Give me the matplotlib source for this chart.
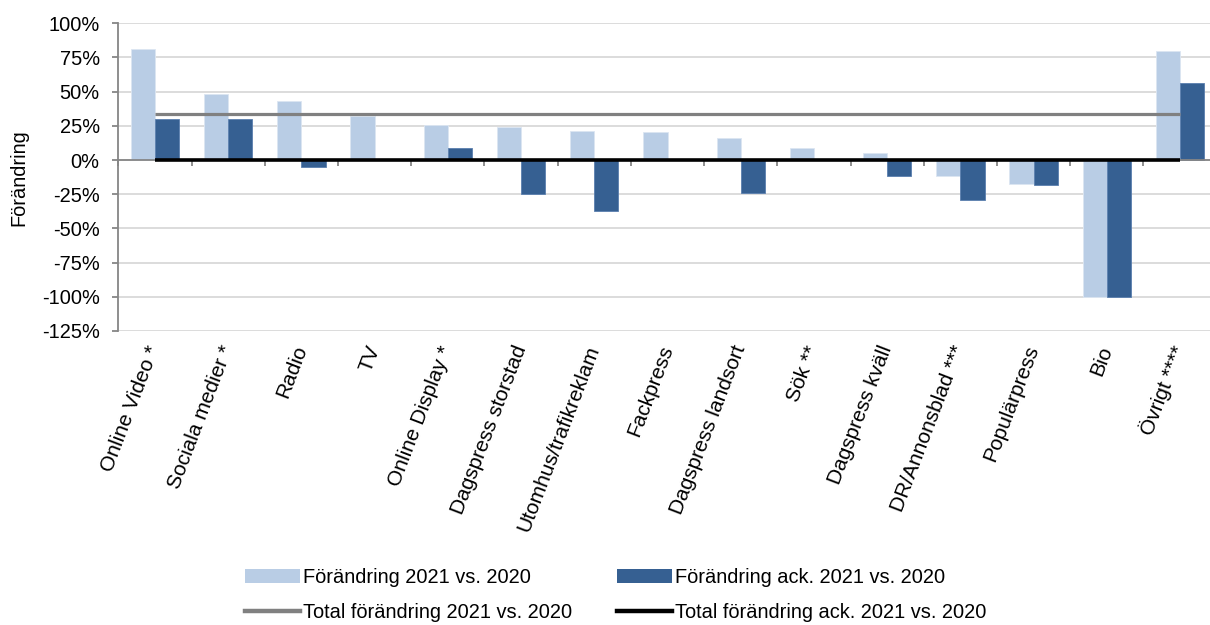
import matplotlib
matplotlib.use("Agg")
import matplotlib.pyplot as plt
import numpy as np
from matplotlib.patches import Patch
from matplotlib.lines import Line2D

plt.rcParams['font.family'] = ['Liberation Sans', 'DejaVu Sans']

categories = ["Online Video *", "Sociala medier *", "Radio", "TV", "Online Display *",
              "Dagspress storstad", "Utomhus/trafikreklam", "Fackpress", "Dagspress landsort",
              "Sök **", "Dagspress kväll", "DR/Annonsblad ***", "Populärpress", "Bio", "Övrigt ****"]
change_2021 = [81.2, 48.5, 43.2, 32.4, 25.6, 24.4, 21.0, 20.5, 15.9, 8.8, 5.4, -12.0, -17.8, -100.0, 79.8]
change_ack_2021 = [30.2, 30.0, -4.9, 0.0, 8.8, -25.1, -37.0, 0.0, -24.4, 0.0, -11.7, -29.3, -18.5, -100.0, 56.3]
total_change = 33.4
total_change_ack = 0.0
yticks = [100, 75, 50, 25, 0, -25, -50, -75, -100, -125]

LIGHT = "#b9cde5"
DARK = "#366092"
FS = 14.4

fig = plt.figure(figsize=(12.1, 6.25), dpi=100)
ax = fig.add_axes([118.4/1210, 294/625, 1098.2/1210, 307.7/625])

n = len(categories)
x = np.arange(n)
w = 0.33
ax.bar(x - w/2, change_2021, w, color=LIGHT, edgecolor="#dce6f2", linewidth=0.6, zorder=2)
ax.bar(x + w/2, change_ack_2021, w, color=DARK, edgecolor="#5a7fae", linewidth=0.6, zorder=2)

ax.plot([x[0], x[-1]], [total_change, total_change], color="#808080", lw=2.3, zorder=4,
        solid_capstyle="butt")
ax.plot([x[0], x[-1]], [total_change_ack, total_change_ack], color="#000000", lw=2.6, zorder=5,
        solid_capstyle="butt")

ax.set_xlim(-0.5, n - 0.5)
ax.set_ylim(-125, 100)
ax.set_yticks(yticks)
ax.set_yticklabels([f"{v}%" for v in yticks], fontsize=FS)
ax.yaxis.grid(True, color="#d9d9d9", lw=1.3, zorder=0)
ax.set_axisbelow(True)

for s in ["top", "right"]:
    ax.spines[s].set_visible(False)
ax.spines["left"].set_color("#868686")
ax.spines["left"].set_linewidth(1.3)
ax.spines["bottom"].set_position(("data", 0))
ax.spines["bottom"].set_color("#868686")
ax.spines["bottom"].set_linewidth(1.3)
ax.spines["bottom"].set_zorder(3)

ax.set_xticks(np.arange(n + 1) - 0.5)
ax.set_xticklabels([])
ax.tick_params(axis="x", direction="out", length=4.5, width=1.3, color="#868686")
ax.tick_params(axis="y", direction="out", length=4.5, width=1.3, color="#868686", pad=9)

for xi, lab in zip(x, categories):
    ax.text(xi + 0.0, -0.05, lab, transform=ax.get_xaxis_transform(), rotation=69,
            ha="right", va="center", rotation_mode="anchor", fontsize=15)

ax.set_ylabel("Förändring", fontsize=FS)
ax.yaxis.set_label_coords(-0.082, 0.5)

handles = [Patch(facecolor=LIGHT, edgecolor="none"),
           Line2D([], [], color="#808080", lw=3.2),
           Patch(facecolor=DARK, edgecolor="none"),
           Line2D([], [], color="#000000", lw=3.2)]
labels = ["Förändring 2021 vs. 2020", "Total förändring 2021 vs. 2020",
          "Förändring ack. 2021 vs. 2020", "Total förändring ack. 2021 vs. 2020"]
fig.legend(handles, labels, ncol=2, loc="upper left", bbox_to_anchor=(245/1210, 1 - 568/625),
           frameon=False, fontsize=FS, borderpad=0, handlelength=2.75, handletextpad=0.15,
           columnspacing=2.25, labelspacing=0.8, borderaxespad=0)

fig.savefig("out.png", dpi=100)
